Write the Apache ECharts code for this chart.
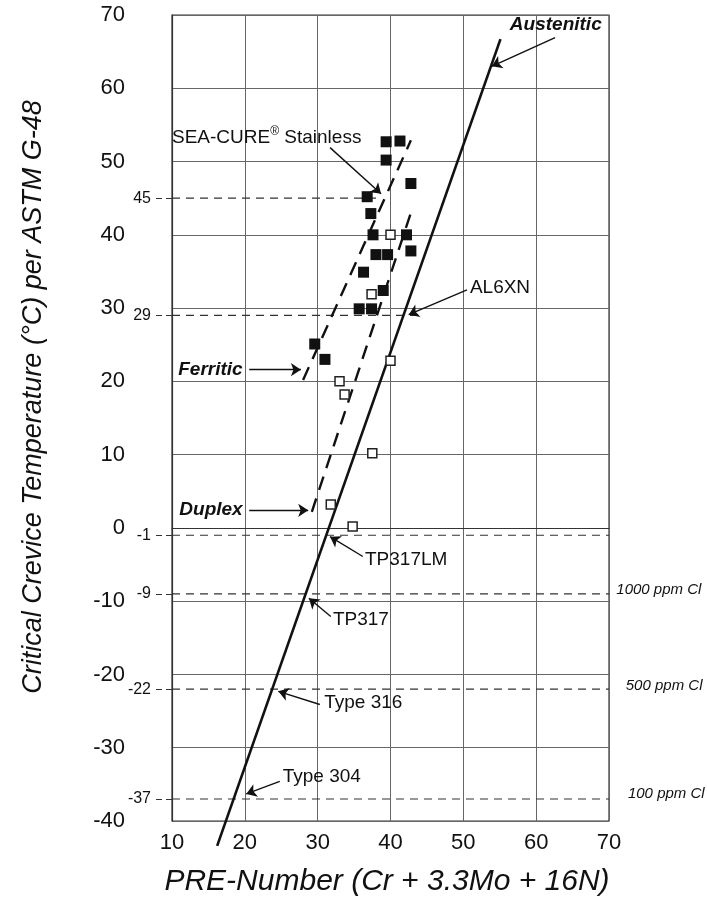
<!DOCTYPE html>
<html><head><meta charset="utf-8">
<script src="https://cdn.jsdelivr.net/npm/echarts@6/dist/echarts.min.js"></script>
<style>html,body{margin:0;padding:0;background:#fff}#c{width:707px;height:903px}</style>
</head><body><div id="c"></div>
<script>
// ---------- data ----------
const xMin = 10, xMax = 70, yMin = -40, yMax = 70, step = 10;
const refLevels = [45, 29, -1, -9, -22, -37];
const refLevelEndPRE = [38.5, 43.8, 70, 70, 70, 70];

const filledPRE = [39.4, 41.3, 39.4, 42.8, 36.8, 37.3, 37.6, 42.2, 42.8, 38.0, 39.6, 36.3, 39.0, 35.7, 37.4, 29.6, 31.0];
const filledCCT = [52.7, 52.8, 50.2, 47.0, 45.2, 42.9, 40.0, 40.0, 37.8, 37.3, 37.3, 34.9, 32.4, 29.9, 29.9, 25.1, 23.0];

const openPRE = [40.0, 37.4, 40.0, 33.0, 33.7, 37.5, 31.8, 34.8];
const openCCT = [40.0, 31.9, 22.8, 20.0, 18.2, 10.2, 3.2, 0.2];

const austeniticPRE = [16.2, 55.1];
const austeniticCCT = [-43.4, 66.7];
const ferriticPRE = [28.0, 42.8];
const ferriticCCT = [20.2, 52.9];
const duplexPRE = [29.2, 42.8];
const duplexCCT = [2.2, 43.0];

const noteTexts = ['Austenitic', 'SEA-CURE® Stainless', 'AL6XN', 'Ferritic', 'Duplex', 'TP317LM', 'TP317', 'Type 316', 'Type 304', '1000 ppm Cl', '500 ppm Cl', '100 ppm Cl'];
const notePRE  = [69.0, 10.0, 50.9, 19.7, 19.7, 36.5, 32.1, 30.9, 25.2, 71.0, 72.3, 72.6];
const noteCCT  = [68.6, 53.4, 32.8, 21.6, 2.5, -4.3, -12.5, -23.9, -34.0, -8.4, -21.5, -36.3];
const noteKind = ['bold', 'sea', 'plain', 'bold', 'bold', 'plain', 'plain', 'plain', 'plain', 'small', 'small', 'small'];
const noteAlign = ['right', 'left', 'left', 'right', 'right', 'left', 'left', 'left', 'left', 'left', 'left', 'left'];

const arrowFromPRE = [62.6, 31.7, 50.5, 20.6, 20.6, 36.2, 31.8, 30.3, 24.8];
const arrowFromCCT = [66.9, 51.9, 32.5, 21.6, 2.4, -3.9, -12.1, -24.1, -34.6];
const arrowToPRE   = [53.9, 38.7, 42.5, 27.7, 28.7, 31.7, 28.8, 24.6, 20.2];
const arrowToCCT   = [63.0, 45.6, 29.1, 21.6, 2.4, -1.2, -9.6, -22.3, -36.3];

// ---------- styles ----------
const FONT = 'Liberation Sans, Arial, Helvetica, sans-serif';
const INK = '#111';
const GRIDC = '#666';

const kindStyle = {
  bold:  {fontSize: 19, fontWeight: 'bold', fontStyle: 'italic'},
  plain: {fontSize: 19, fontWeight: 'normal', fontStyle: 'normal'},
  small: {fontSize: 15, fontWeight: 'normal', fontStyle: 'italic'},
  sea:   {fontSize: 19, fontWeight: 'normal', fontStyle: 'normal'}
};

const zip = (a, b) => a.map((v, i) => [v, b[i]]);

const arrowData = arrowFromPRE.map((v, i) => [
  {coord: [v, arrowFromCCT[i]]},
  {coord: [arrowToPRE[i], arrowToCCT[i]]}
]);

const refSeries = refLevels.map((lv, i) => ({
  type: 'line', silent: true, symbol: 'none', z: 2,
  data: [[xMin, lv], [refLevelEndPRE[i], lv]],
  lineStyle: {color: '#333', width: 1.2, type: [8, 6]}
}));

const chart = echarts.init(document.getElementById('c'), null, {renderer: 'canvas'});
chart.setOption({
  animation: false,
  backgroundColor: '#fff',
  grid: {left: 172, right: 98, top: 15, bottom: 82, show: true, borderColor: '#333', borderWidth: 1.2},
  xAxis: {
    type: 'value', min: xMin, max: xMax, interval: step,
    axisLine: {show: true, lineStyle: {color: '#333', width: 1.2}},
    axisTick: {show: false},
    axisLabel: {fontSize: 22, color: INK, fontFamily: FONT, margin: 11},
    splitLine: {show: true, lineStyle: {color: GRIDC, width: 1}}
  },
  yAxis: [{
    type: 'value', min: yMin, max: yMax, interval: step, position: 'left',
    axisLine: {show: true, lineStyle: {color: '#333', width: 1.2}},
    axisTick: {show: false},
    axisLabel: {fontSize: 22, color: INK, fontFamily: FONT, margin: 47},
    splitLine: {show: true, lineStyle: {color: GRIDC, width: 1}}
  }, {
    type: 'value', min: yMin, max: yMax, interval: step, position: 'left', offset: 0,
    axisLine: {show: false},
    axisTick: {show: true, customValues: refLevels, length: 18, lineStyle: {color: '#333', width: 1.2, type: [6, 4]}},
    axisLabel: {customValues: refLevels, fontSize: 16, color: INK, fontFamily: FONT, margin: 21},
    splitLine: {show: false}
  }],
  series: refSeries.concat([
    {
      name: 'Austenitic', type: 'line', silent: true, symbol: 'none', clip: false, z: 4,
      data: zip(austeniticPRE, austeniticCCT),
      lineStyle: {color: INK, width: 2.6},
      markLine: {
        silent: true, symbol: ['none', 'arrow'], symbolSize: 10, animation: false,
        label: {show: false},
        lineStyle: {color: INK, width: 1.4, type: 'solid'},
        itemStyle: {color: INK},
        emphasis: {disabled: true},
        data: arrowData
      }
    },
    {
      name: 'Ferritic', type: 'line', silent: true, symbol: 'none', z: 4,
      data: zip(ferriticPRE, ferriticCCT),
      lineStyle: {color: INK, width: 2.4, type: [14, 9]}
    },
    {
      name: 'Duplex', type: 'line', silent: true, symbol: 'none', z: 4,
      data: zip(duplexPRE, duplexCCT),
      lineStyle: {color: INK, width: 2.4, type: [14, 9]}
    },
    {
      name: 'Ferritic data', type: 'scatter', silent: true, symbol: 'rect', symbolSize: 11, z: 5,
      data: zip(filledPRE, filledCCT),
      itemStyle: {color: '#111', opacity: 1}
    },
    {
      name: 'Duplex data', type: 'scatter', silent: true, symbol: 'rect', symbolSize: 9, z: 5,
      data: zip(openPRE, openCCT),
      itemStyle: {color: '#fff', borderColor: '#222', borderWidth: 1.5, opacity: 1}
    }
  ])
});

// annotation texts placed at data coordinates
const graphics = [
  {type: 'text', x: 33, y: 397, rotation: Math.PI / 2,
   style: {text: 'Critical Crevice Temperature (°C) per ASTM G-48', fontSize: 27, fontStyle: 'italic', fontFamily: FONT, fill: INK, align: 'center', verticalAlign: 'middle'}},
  {type: 'text', x: 387, y: 882,
   style: {text: 'PRE-Number (Cr + 3.3Mo + 16N)', fontSize: 30, fontStyle: 'italic', fontFamily: FONT, fill: INK, align: 'center', verticalAlign: 'middle'}}
];
noteTexts.forEach((t, i) => {
  const p = chart.convertToPixel({gridIndex: 0}, [notePRE[i], noteCCT[i]]);
  const ks = kindStyle[noteKind[i]];
  if (noteKind[i] === 'sea') {
    graphics.push({type: 'text', x: p[0], y: p[1], style: {
      text: '{a|SEA-CURE}{s|®}{a| Stainless}', align: 'left', verticalAlign: 'middle',
      rich: {
        a: {fontSize: 19, fontFamily: FONT, fill: INK, lineHeight: 22, verticalAlign: 'bottom'},
        s: {fontSize: 12, fontFamily: FONT, fill: INK, lineHeight: 22, verticalAlign: 'top'}
      }
    }});
  } else {
    graphics.push({type: 'text', x: p[0], y: p[1], style: Object.assign({
      text: t, fontFamily: FONT, fill: INK, align: noteAlign[i], verticalAlign: 'middle'
    }, ks)});
  }
});
chart.setOption({graphic: graphics});
</script></body></html>
